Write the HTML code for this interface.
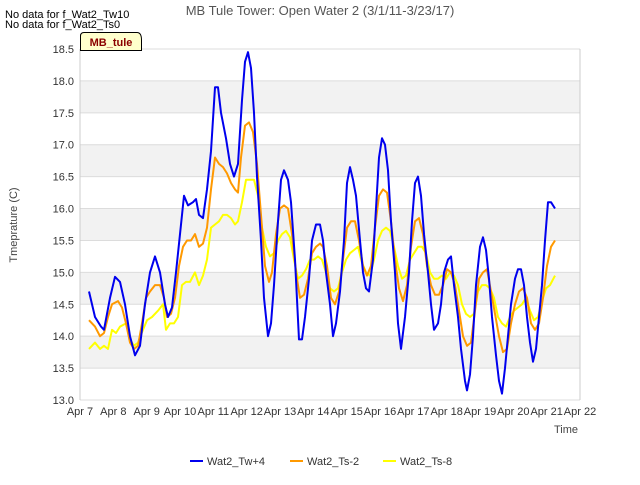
<!DOCTYPE html>
<html><head><meta charset="utf-8"><style>
body{margin:0;background:#fff;font-family:"Liberation Sans",sans-serif}
svg text{font-family:"Liberation Sans",sans-serif}
</style></head><body>
<svg id="chart" width="640" height="480">
<text x="320" y="15" text-anchor="middle" font-size="13" fill="#555">MB Tule Tower: Open Water 2 (3/1/11-3/23/17)</text>
<text x="5" y="18" font-size="11" fill="#000">No data for f_Wat2_Tw10</text>
<text x="5" y="28" font-size="11" fill="#000">No data for f_Wat2_Ts0</text>
<g id="bands"></g><g id="grid"></g><g id="axes"></g><g id="series"></g>
<g>
<path d="M80.5,50.5 V36 Q80.5,32.5 84,32.5 H137 Q141.5,32.5 141.5,40 V50.5 Z" fill="#ffffcc" stroke="#000"/>
<text x="111" y="46" text-anchor="middle" font-size="11" font-weight="bold" fill="#8b0000">MB_tule</text>
</g>
<text transform="translate(17,225) rotate(-90)" text-anchor="middle" font-size="11" fill="#444">Tmeprature (C)</text>
<text x="566" y="433" text-anchor="middle" font-size="11" fill="#444">Time</text>
<g id="legend"></g>
</svg>
<script>
const yTicks=[13.0,13.5,14.0,14.5,15.0,15.5,16.0,16.5,17.0,17.5,18.0,18.5];
const xTickLabels=["Apr 7","Apr 8","Apr 9","Apr 10","Apr 11","Apr 12","Apr 13","Apr 14","Apr 15","Apr 16","Apr 17","Apr 18","Apr 19","Apr 20","Apr 21","Apr 22"];
const seriesNames=["Wat2_Tw+4","Wat2_Ts-2","Wat2_Ts-8"];
const seriesColors=["#0000ee","#ff9900","#ffff00"];
const twDays=[.27,.45,.63,.72,.9,1.05,1.2,1.35,1.5,1.65,1.8,1.95,2.1,2.25,2.4,2.55,2.64,2.76,2.88,3.0,3.12,3.24,3.39,3.48,3.57,3.69,3.81,3.93,4.05,4.14,4.23,4.38,4.5,4.62,4.74,4.86,4.95,5.04,5.13,5.22,5.31,5.43,5.52,5.64,5.73,5.82,5.94,6.03,6.12,6.24,6.33,6.45,6.57,6.66,6.75,6.87,6.96,7.08,7.2,7.29,7.38,7.5,7.59,7.68,7.8,7.92,8.01,8.1,8.19,8.28,8.4,8.49,8.58,8.67,8.79,8.88,8.97,9.06,9.15,9.24,9.33,9.45,9.54,9.63,9.75,9.87,9.96,10.05,10.14,10.23,10.32,10.44,10.53,10.62,10.74,10.83,10.92,11.04,11.13,11.22,11.34,11.43,11.55,11.61,11.7,11.79,11.88,12.0,12.09,12.18,12.27,12.36,12.48,12.57,12.66,12.75,12.84,12.93,13.05,13.14,13.23,13.32,13.41,13.5,13.59,13.68,13.77,13.86,13.95,14.04,14.13,14.25];
const twVals=[14.7,14.3,14.15,14.1,14.6,14.93,14.85,14.5,14.0,13.7,13.85,14.5,15.0,15.25,15.0,14.5,14.3,14.45,15.0,15.6,16.2,16.05,16.1,16.15,15.9,15.85,16.3,16.9,17.9,17.9,17.5,17.1,16.7,16.5,16.7,17.7,18.3,18.45,18.2,17.5,16.5,15.5,14.6,14.0,14.2,14.8,15.8,16.45,16.6,16.45,16.1,15.2,13.95,13.95,14.3,14.9,15.5,15.75,15.75,15.5,15.0,14.5,14.0,14.2,14.7,15.5,16.4,16.65,16.45,16.2,15.5,15.0,14.75,14.7,15.2,16.0,16.8,17.1,17.0,16.6,15.8,15.0,14.2,13.8,14.3,15.0,15.8,16.4,16.5,16.2,15.6,15.0,14.5,14.1,14.2,14.5,15.0,15.2,15.25,14.8,14.3,13.8,13.3,13.15,13.4,14.0,14.8,15.4,15.55,15.35,14.9,14.3,13.7,13.3,13.1,13.5,14.0,14.5,14.9,15.05,15.05,14.8,14.3,13.9,13.6,13.8,14.3,14.8,15.5,16.1,16.1,16.0];
const ts2Days=[.27,.45,.6,.72,.84,.96,1.14,1.26,1.38,1.5,1.62,1.74,1.86,1.98,2.1,2.25,2.4,2.52,2.61,2.73,2.85,2.97,3.09,3.21,3.33,3.45,3.57,3.69,3.81,3.93,4.05,4.17,4.29,4.41,4.53,4.65,4.74,4.83,4.95,5.07,5.19,5.31,5.43,5.55,5.67,5.76,5.88,6.0,6.12,6.24,6.36,6.48,6.6,6.72,6.84,6.96,7.08,7.2,7.29,7.41,7.53,7.65,7.77,7.89,8.01,8.13,8.25,8.37,8.49,8.61,8.73,8.85,8.97,9.09,9.21,9.33,9.45,9.57,9.69,9.81,9.93,10.05,10.17,10.29,10.41,10.53,10.65,10.77,10.89,11.01,11.13,11.25,11.37,11.49,11.61,11.73,11.85,11.97,12.09,12.21,12.33,12.45,12.57,12.69,12.81,12.93,13.05,13.17,13.29,13.41,13.53,13.65,13.77,13.89,14.01,14.13,14.25];
const ts2Vals=[14.25,14.15,14.0,14.05,14.3,14.5,14.55,14.45,14.2,13.9,13.8,13.85,14.2,14.6,14.7,14.8,14.8,14.6,14.3,14.35,14.6,15.1,15.4,15.5,15.5,15.6,15.4,15.45,15.7,16.3,16.8,16.7,16.65,16.55,16.4,16.3,16.25,16.8,17.3,17.35,17.2,16.7,15.9,15.1,14.85,15.0,15.6,16.0,16.05,16.0,15.6,15.0,14.6,14.65,14.9,15.3,15.4,15.45,15.4,15.1,14.6,14.5,14.7,15.2,15.7,15.8,15.8,15.5,15.1,14.95,15.1,15.7,16.2,16.3,16.25,15.8,15.2,14.75,14.55,14.8,15.4,15.8,15.85,15.6,15.1,14.8,14.65,14.65,14.8,15.05,15.0,14.8,14.4,14.0,13.85,13.9,14.4,14.9,15.0,15.05,14.7,14.35,14.0,13.75,13.8,14.2,14.5,14.7,14.75,14.6,14.2,14.1,14.2,14.6,15.1,15.4,15.5];
const ts8Days=[.27,.45,.6,.72,.84,.96,1.08,1.2,1.38,1.5,1.62,1.74,1.89,2.01,2.16,2.34,2.49,2.58,2.7,2.82,2.94,3.06,3.18,3.3,3.45,3.57,3.69,3.81,3.93,4.05,4.17,4.29,4.41,4.53,4.65,4.74,4.86,4.98,5.1,5.22,5.34,5.46,5.58,5.7,5.82,5.94,6.06,6.18,6.3,6.42,6.54,6.66,6.78,6.9,7.02,7.14,7.26,7.38,7.5,7.62,7.74,7.86,7.98,8.1,8.22,8.34,8.46,8.58,8.7,8.82,8.94,9.06,9.18,9.3,9.42,9.54,9.66,9.78,9.9,10.02,10.14,10.26,10.38,10.5,10.62,10.74,10.86,10.98,11.1,11.22,11.34,11.46,11.58,11.7,11.82,11.94,12.06,12.18,12.3,12.42,12.54,12.66,12.78,12.9,13.02,13.14,13.26,13.38,13.5,13.62,13.74,13.86,13.98,14.1,14.25];
const ts8Vals=[13.8,13.9,13.8,13.85,13.8,14.1,14.05,14.15,14.2,13.95,13.85,13.9,14.1,14.25,14.3,14.4,14.5,14.1,14.2,14.2,14.3,14.8,14.85,14.85,15.0,14.8,14.95,15.2,15.7,15.75,15.8,15.9,15.9,15.85,15.75,15.8,16.1,16.45,16.45,16.45,16.2,15.7,15.4,15.25,15.3,15.5,15.6,15.65,15.55,15.2,14.9,14.95,15.05,15.2,15.2,15.25,15.2,15.0,14.75,14.7,14.75,15.0,15.2,15.3,15.35,15.4,15.15,15.0,14.95,15.2,15.5,15.65,15.7,15.65,15.4,15.1,14.9,14.95,15.2,15.3,15.4,15.4,15.3,15.0,14.9,14.9,14.95,14.9,15.0,14.95,14.8,14.5,14.35,14.3,14.35,14.7,14.8,14.8,14.75,14.6,14.3,14.2,14.15,14.3,14.4,14.45,14.5,14.6,14.4,14.25,14.3,14.55,14.75,14.8,14.95];

const NS="http://www.w3.org/2000/svg";
const L=80,R=580,T=49,B=400,yMin=13,yMax=18.5,dMax=15;
const xs=d=>L+(R-L)*d/dMax;
const ys=v=>B-(B-T)*(v-yMin)/(yMax-yMin);
function mk(tag,attrs,parent){const e=document.createElementNS(NS,tag);for(const k in attrs)e.setAttribute(k,attrs[k]);parent.appendChild(e);return e;}
const bands=document.getElementById('bands'),grid=document.getElementById('grid'),axes=document.getElementById('axes'),series=document.getElementById('series'),legend=document.getElementById('legend');
for(let i=0;i<yTicks.length-1;i++){
  if(i%2===1){const r=mk('rect',{x:L,y:ys(yTicks[i+1]),width:R-L,height:ys(yTicks[i])-ys(yTicks[i+1]),fill:'#f2f2f2'},bands);
  
  }
}
yTicks.forEach(v=>{
  const g=mk('line',{x1:L,x2:R,y1:ys(v),y2:ys(v),stroke:'#dcdcdc'},grid);
  
  
  const t=mk('text',{x:L-6,y:ys(v)+4,'text-anchor':'end','font-size':11,fill:'#333'},axes);
  t.textContent=v.toFixed(1);
  
  
});
mk('line',{x1:L,x2:L,y1:T,y2:B,stroke:'#ccc'},axes);
mk('line',{x1:R,x2:R,y1:T,y2:B,stroke:'#ccc'},axes);
xTickLabels.forEach((s,i)=>{
  const t=mk('text',{x:xs(i),y:B+15,'text-anchor':'middle','font-size':11,fill:'#333'},axes);
  t.textContent=s;
  
  
});
const allDays=[twDays,ts2Days,ts8Days],allVals=[twVals,ts2Vals,ts8Vals];
[2,1,0].forEach(k=>{
  const pts=allDays[k].map((d,i)=>xs(d).toFixed(1)+','+ys(allVals[k][i]).toFixed(1)).join(' ');
  const p=mk('polyline',{points:pts,fill:'none',stroke:seriesColors[k],'stroke-width':2,'stroke-linejoin':'round'},series);
  
  
});
const lx=[190,290,383];
seriesNames.forEach((n,k)=>{
  const l=mk('line',{x1:lx[k],x2:lx[k]+13,y1:461,y2:461,stroke:seriesColors[k],'stroke-width':2},legend);
  
  
  const t=mk('text',{x:lx[k]+17,y:465,'font-size':11,fill:'#333'},legend);
  t.textContent=n;
  
  
});
</script>
</body></html>
